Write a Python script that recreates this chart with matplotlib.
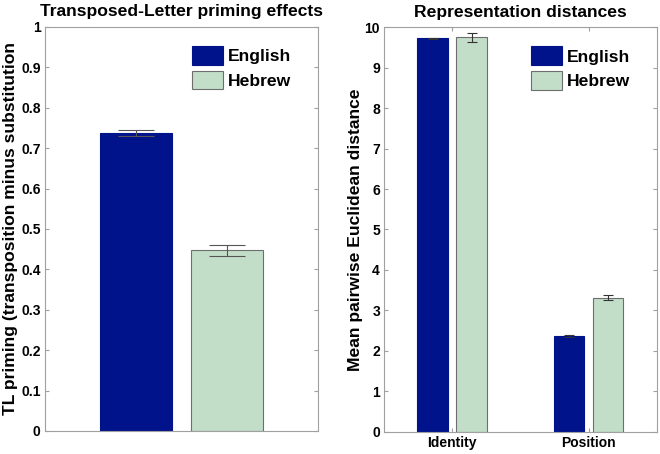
import matplotlib
matplotlib.use("Agg")
import matplotlib.pyplot as plt
import numpy as np

plt.rcParams['font.family'] = ['Liberation Sans', 'DejaVu Sans']
plt.rcParams['font.weight'] = 'bold'

# data
languages = ["English", "Hebrew"]
tl_means = [0.737, 0.447]
tl_errs = [0.008, 0.014]

dist_groups = ["Identity", "Position"]
dist_english = [9.72, 2.37]
dist_english_err = [0.02, 0.02]
dist_hebrew = [9.75, 3.32]
dist_hebrew_err = [0.11, 0.07]

C_ENG = "#00138a"
C_HEB = "#c2dec8"
EDGE = "#6e6e6e"
SPINE = "#a0a0a0"
FS = 12.6

fig = plt.figure(figsize=(6.6, 4.54), dpi=100)
ax1 = fig.add_axes([0.068, 0.0507, 0.414, 0.890])
ax2 = fig.add_axes([0.582, 0.0485, 0.413, 0.892])


def style(ax):
    for s in ax.spines.values():
        s.set_color(SPINE)
        s.set_linewidth(0.8)
    ax.tick_params(direction='in', color=SPINE, labelsize=10, length=3,
                   pad=3, labelcolor='black')
    for t in ax.get_yticklabels() + ax.get_xticklabels():
        t.set_fontweight('bold')


def legend(ax):
    ax.legend(loc='upper left', bbox_to_anchor=(0.54, 0.952), frameon=False,
              handlelength=1.75, handleheight=1.25, borderpad=0,
              borderaxespad=0, handletextpad=0.3, labelspacing=0.35,
              prop={'weight': 'bold', 'size': FS})


# left panel
xs = np.array([1, 2])
ax1.bar(xs[0], tl_means[0], width=0.8, color=C_ENG, edgecolor=C_ENG,
        linewidth=0.8, label=languages[0])
ax1.bar(xs[1], tl_means[1], width=0.8, color=C_HEB, edgecolor=EDGE,
        linewidth=0.8, label=languages[1])
ax1.errorbar(xs, tl_means, yerr=tl_errs, fmt='none', ecolor='#555555',
             elinewidth=0.8, capsize=13, capthick=0.8)
ax1.set_xlim(0, 3)
ax1.set_ylim(0, 1)
ax1.set_xticks([])
ax1.set_yticks(np.arange(0, 1.01, 0.1))
ax1.set_yticklabels(["0", "0.1", "0.2", "0.3", "0.4", "0.5", "0.6", "0.7",
                     "0.8", "0.9", "1"])
ax1.yaxis.set_ticks_position('both')
style(ax1)
ax1.set_title("Transposed-Letter priming effects", fontsize=FS,
              fontweight='bold', pad=8)
ax1.set_ylabel("TL priming (transposition minus substitution", fontsize=FS,
               fontweight='bold')
ax1.yaxis.set_label_coords(-0.097, 0.5)
legend(ax1)

# right panel
gx = np.array([1, 2])
off = 0.143
w = 0.225
ax2.bar(gx - off, dist_english, width=w, color=C_ENG, edgecolor=C_ENG,
        linewidth=0.8, label=languages[0])
ax2.bar(gx + off, dist_hebrew, width=w, color=C_HEB, edgecolor=EDGE,
        linewidth=0.8, label=languages[1])
ax2.errorbar(gx - off, dist_english, yerr=dist_english_err, fmt='none',
             ecolor='#333333', elinewidth=0.8, capsize=3.6, capthick=0.8)
ax2.errorbar(gx + off, dist_hebrew, yerr=dist_hebrew_err, fmt='none',
             ecolor='#333333', elinewidth=0.8, capsize=3.6, capthick=0.8)
ax2.set_xlim(0.5, 2.5)
ax2.set_ylim(0, 10)
ax2.set_xticks(gx)
ax2.set_xticklabels(dist_groups)
ax2.set_yticks(np.arange(0, 11, 1))
ax2.yaxis.set_ticks_position('both')
ax2.xaxis.set_ticks_position('both')
style(ax2)
ax2.set_title("Representation distances", fontsize=FS, fontweight='bold',
              pad=7)
ax2.set_ylabel("Mean pairwise Euclidean distance", fontsize=FS,
               fontweight='bold')
ax2.yaxis.set_label_coords(-0.077, 0.5)
legend(ax2)

fig.savefig("out.png", dpi=100)
